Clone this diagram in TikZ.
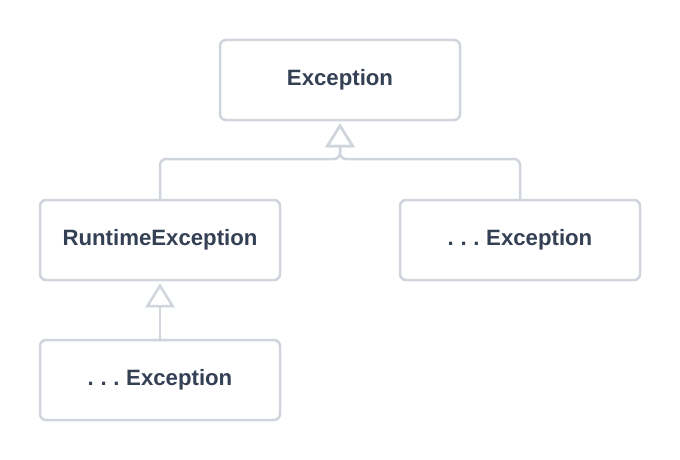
\documentclass[tikz,border=0pt]{standalone}
\usepackage{fontspec}
\setmainfont{Liberation Sans}
\usetikzlibrary{arrows.meta}
\definecolor{edge}{HTML}{D0D5DD}
\definecolor{ink}{HTML}{344054}
\newcommand{\dotsexc}{.\hspace{0.3em}.\hspace{0.3em}.\hspace{0.3em}Exception}
\begin{document}
\begin{tikzpicture}[x=1pt,y=-1pt,
  cls/.style={draw=edge, line width=2.5pt, rounded corners=6pt, fill=white,
    minimum width=240pt, minimum height=80pt, inner sep=0pt,
    font=\fontsize{22.2}{25}\selectfont\bfseries, text=ink},
  inh/.style={draw=edge, line width=2.5pt, rounded corners=6pt,
    -{Triangle[open, length=24pt, width=29pt, line width=2.5pt]}, shorten >=2pt}]
\useasboundingbox (0,0) rectangle (680,460);
\node[cls] (exc) at (340,80) {Exception};
\node[cls] (rt) at (160,240) {RuntimeException};
\node[cls] (oe) at (520,240) {\dotsexc};
\node[cls] (be) at (160,380) {\dotsexc};
\coordinate (j) at (340,159);
\draw[inh] (rt.north) |- (j) -- (exc.south);
\draw[inh] (oe.north) |- (j) -- (exc.south);
\draw[inh] (be.north) -- (rt.south);
\end{tikzpicture}
\end{document}
